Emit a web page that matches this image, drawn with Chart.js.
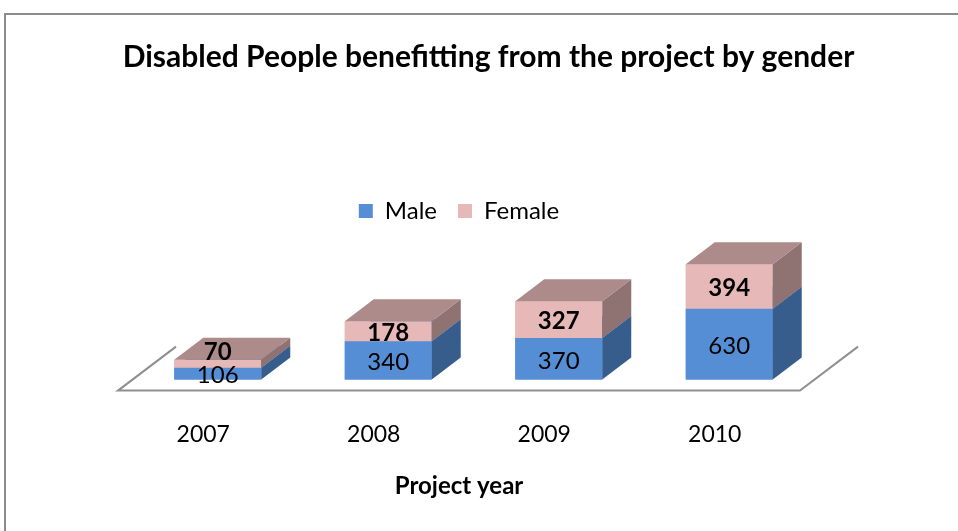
<!DOCTYPE html>
<html>
<head>
<meta charset="utf-8">
<script src="https://cdn.jsdelivr.net/npm/chart.js@4.4.0/dist/chart.umd.min.js"></script>
<style>
body { margin: 0; background: #fff; }
</style>
</head>
<body>
<canvas id="chart" width="958" height="531"></canvas>
<script>
var years = ["2007", "2008", "2009", "2010"];
var maleValues = [106, 340, 370, 630];
var femaleValues = [70, 178, 327, 394];
var seriesNames = ["Male", "Female"];

var frontColours = ["#558ED5", "#E6B9B8"];
var sideColours = ["#375D8C", "#8F7372"];
var topColours = ["#4A7BB8", "#AC8B8A"];

// how far the box goes "into" the picture
var depthX = 29, depthY = 22;
var fontName = "Lato";

/* grey frame round the chart, like the pasted excel object */
var framePlugin = {
  id: 'frame',
  beforeDraw: function(chart){
    var ctx = chart.ctx;
    ctx.save();
    ctx.fillStyle = '#fff';
    ctx.fillRect(0, 0, chart.width, chart.height);
    ctx.strokeStyle = '#8c8c8c';
    ctx.lineWidth = 2;
    ctx.beginPath();
    ctx.moveTo(5, chart.height);
    ctx.lineTo(5, 14);
    ctx.lineTo(chart.width, 14);
    ctx.stroke();
    ctx.restore();
  }
};

/* floor, side and top faces of the bars, and the value labels */
var box3dPlugin = {
  id: 'box3d',
  beforeDatasetsDraw: function(chart){
    var ctx = chart.ctx;
    var a = chart.chartArea;
    ctx.save();
    ctx.strokeStyle = '#8f8f8f';
    ctx.lineWidth = 2;
    ctx.beginPath();
    ctx.moveTo(a.left + depthX * 2, a.bottom - depthY * 2);
    ctx.lineTo(a.left, a.bottom);
    ctx.lineTo(a.right, a.bottom);
    ctx.lineTo(a.right + depthX * 2, a.bottom - depthY * 2);
    ctx.stroke();
    ctx.restore();

    // bars stand half way back on the floor
    ctx.save();
    ctx.translate(depthX / 2, -depthY / 2);
  },
  afterDatasetsDraw: function(chart){
    var ctx = chart.ctx;
    var metas = [chart.getDatasetMeta(0), chart.getDatasetMeta(1)];
    for (var i = 0; i < years.length; i++){
      for (var d = 0; d < metas.length; d++){
        var bar = metas[d].data[i];
        var p = bar.getProps(['x', 'y', 'base', 'width'], true);
        var left = p.x - p.width / 2, right = p.x + p.width / 2;
        var top = Math.min(p.y, p.base), bottom = Math.max(p.y, p.base);
        bar.draw(ctx);

        ctx.fillStyle = sideColours[d];
        ctx.beginPath();
        ctx.moveTo(right, bottom);
        ctx.lineTo(right, top);
        ctx.lineTo(right + depthX, top - depthY);
        ctx.lineTo(right + depthX, bottom - depthY);
        ctx.closePath();
        ctx.fill();

        ctx.fillStyle = topColours[d];
        ctx.beginPath();
        ctx.moveTo(left, top);
        ctx.lineTo(left + depthX, top - depthY);
        ctx.lineTo(right + depthX, top - depthY);
        ctx.lineTo(right, top);
        ctx.closePath();
        ctx.fill();
      }
    }

    ctx.textAlign = 'center';
    ctx.textBaseline = 'middle';
    ctx.fillStyle = '#000';
    for (var j = 0; j < years.length; j++){
      var m = metas[0].data[j], f = metas[1].data[j];
      var my = (m.y + m.base) / 2 + 2;
      var fy = (f.y + f.base) / 2 + 2;
      if (my - fy < 23) fy = my - 23;
      ctx.font = '24px ' + fontName;
      ctx.fillText(String(maleValues[j]), m.x, my);
      ctx.font = 'bold 24px ' + fontName;
      ctx.fillText(String(femaleValues[j]), f.x, fy);
    }
    ctx.restore();
  }
};

var ctx = document.getElementById("chart").getContext('2d');
var genderChart = new Chart(ctx, {
  type: 'bar',
  data: {
    labels: years,
    datasets: [
      {label: seriesNames[0], data: maleValues, backgroundColor: frontColours[0], borderWidth: 0},
      {label: seriesNames[1], data: femaleValues, backgroundColor: frontColours[1], borderWidth: 0}
    ]
  },
  options: {
    responsive: false,
    animation: false,
    layout: {padding: {left: 19, right: 0, top: 0, bottom: 36}},
    datasets: {bar: {categoryPercentage: 1, barPercentage: 0.51, clip: false}},
    plugins: {
      title: {
        display: true,
        text: "Disabled People benefitting from the project by gender",
        color: '#000',
        font: {family: fontName, size: 30, weight: 'bold'},
        padding: {top: 39, bottom: 103}
      },
      legend: {
        display: true,
        position: 'top',
        fullSize: false,
        labels: {boxWidth: 14, boxHeight: 14, padding: 21, color: '#000', font: {family: fontName, size: 24}}
      },
      tooltip: {enabled: false}
    },
    scales: {
      x: {
        stacked: true,
        grid: {display: false, drawTicks: false},
        border: {display: false},
        ticks: {color: '#000', font: {family: fontName, size: 23}, padding: 30},
        title: {display: true, text: 'Project year', color: '#000', font: {family: fontName, size: 24, weight: 'bold', lineHeight: 0.7}, padding: {top: 0, bottom: 0}}
      },
      y: {
        stacked: true, min: 0, max: 1400,
        grid: {display: false, drawTicks: false},
        border: {display: false},
        ticks: {display: false},
        afterFit: function(s){ s.width = 99; }
      },
      y2: {
        position: 'right',
        grid: {display: false, drawTicks: false},
        border: {display: false},
        ticks: {display: false},
        afterFit: function(s){ s.width = 158; }
      }
    }
  },
  plugins: [framePlugin, box3dPlugin]
});
</script>
</body>
</html>
